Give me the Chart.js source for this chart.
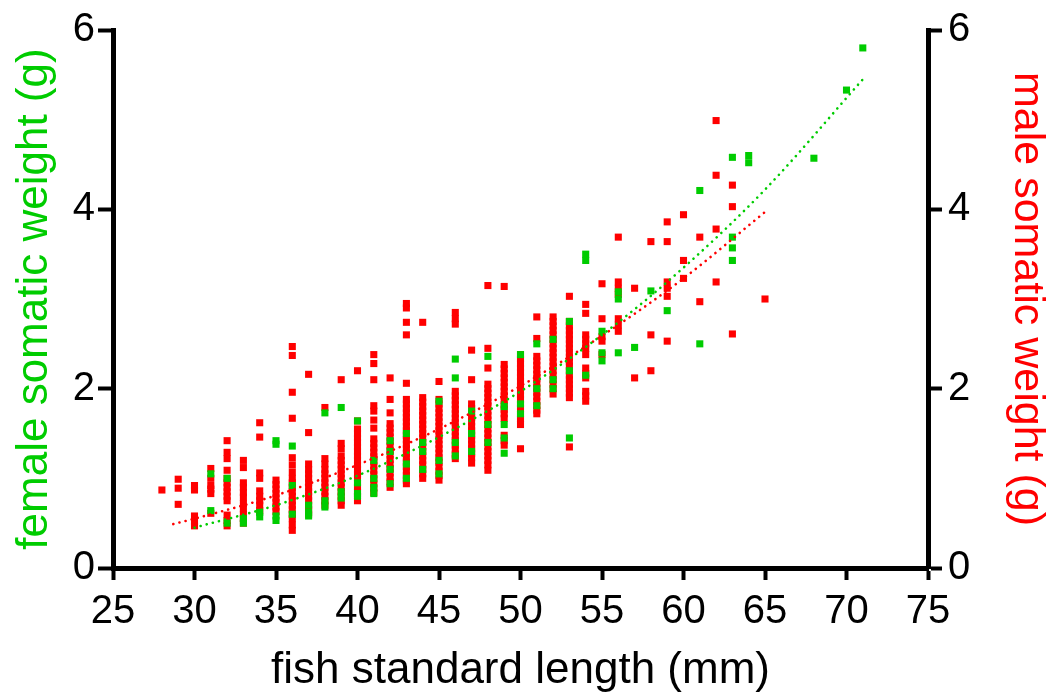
<!DOCTYPE html>
<html>
<head>
<meta charset="utf-8">
<script src="https://cdn.jsdelivr.net/npm/chart.js@4"></script>
<style>
html,body{margin:0;padding:0;background:#fff;}
#wrap{width:1054px;height:695px;}
</style>
</head>
<body>
<div id="wrap"><canvas id="c" width="1054" height="695"></canvas></div>
<script>
// ---- data ----
const xTicks = [25, 30, 35, 40, 45, 50, 55, 60, 65, 70, 75];
const yTicks = [0, 2, 4, 6];

const maleLengths = [28,29,30,31,32,33,34,35,36,37,38,39,40,41,42,43,44,45,46,47,48,49,50,51,52,53,54,55,56,57,58,59,60,61,62,63,65];
const maleWeights = [
  [0.87],
  [0.99,0.89,0.71],
  [0.92,0.87,0.58,0.52,0.47],
  [1.11,1.0,0.92,0.88,0.83,0.61],
  [1.42,1.29,1.22,1.09,1.0,0.95,0.9,0.85,0.8,0.75,0.59,0.53,0.47],
  [1.2,1.12,0.95,0.9,0.84,0.79,0.72,0.66,0.6,0.55,0.5],
  [1.62,1.46,1.06,1.0,0.86,0.8,0.75,0.7,0.64],
  [0.98,0.93,0.88,0.83,0.78,0.73,0.68,0.63],
  [2.47,2.37,1.96,1.67,1.23,1.15,1.07,1.0,0.95,0.9,0.85,0.8,0.75,0.7,0.65,0.6,0.55,0.48,0.42],
  [2.16,1.51,1.16,1.1,1.05,1.0,0.95,0.9,0.85,0.8,0.75,0.7,0.65,0.6],
  [1.79,1.22,1.16,1.1,1.05,1.0,0.95,0.9,0.85,0.8,0.75,0.7],
  [2.1,1.39,1.33,1.25,1.2,1.15,1.1,1.05,1.0,0.95,0.9,0.85,0.8,0.75,0.7],
  [2.2,1.64,1.55,1.5,1.45,1.4,1.35,1.3,1.25,1.2,1.15,1.1,1.05,1.0,0.95,0.9,0.85,0.8,0.75],
  [2.38,2.28,2.1,1.81,1.75,1.65,1.56,1.44,1.39,1.34,1.29,1.24,1.19,1.14,1.09,1.04,0.99,0.94,0.89,0.84],
  [2.12,1.88,1.73,1.61,1.56,1.51,1.46,1.41,1.36,1.31,1.26,1.21,1.16,1.11,1.06,1.01,0.96,0.9],
  [2.95,2.9,2.74,2.6,2.06,1.88,1.83,1.78,1.73,1.68,1.63,1.58,1.53,1.48,1.43,1.38,1.33,1.28,1.23,1.18,1.13,1.08,1.03,0.98,0.94],
  [2.74,1.9,1.85,1.8,1.75,1.7,1.65,1.6,1.55,1.5,1.45,1.4,1.35,1.3,1.25,1.2,1.15,1.1,1.05,1.0],
  [2.08,1.88,1.83,1.78,1.73,1.68,1.63,1.58,1.53,1.48,1.43,1.38,1.33,1.28,1.23,1.18,1.13,1.08,1.03,0.98],
  [2.85,2.78,2.72,1.97,1.92,1.87,1.82,1.77,1.72,1.67,1.62,1.57,1.52,1.47,1.42,1.37,1.32,1.27,1.22],
  [2.43,2.1,1.83,1.78,1.73,1.68,1.63,1.58,1.53,1.48,1.43,1.38,1.33,1.28,1.23,1.17],
  [3.15,2.45,2.23,2.05,2.0,1.95,1.9,1.85,1.8,1.75,1.7,1.65,1.6,1.55,1.5,1.45,1.4,1.35,1.3,1.25,1.2,1.15,1.09],
  [3.14,2.27,2.22,2.17,2.12,2.07,2.02,1.97,1.92,1.87,1.82,1.77,1.72,1.67,1.48,1.42,1.37],
  [2.38,2.33,2.28,2.23,2.18,2.13,2.08,2.03,1.98,1.93,1.88,1.83,1.78,1.72,1.66,1.6,1.33],
  [2.8,2.56,2.36,2.31,2.26,2.21,2.16,2.11,2.06,2.01,1.96,1.91,1.86,1.81,1.76,1.72],
  [2.8,2.75,2.7,2.65,2.6,2.55,2.5,2.45,2.4,2.35,2.3,2.25,2.2,2.15,2.1,2.05,2.0,1.94],
  [3.03,2.75,2.7,2.65,2.6,2.55,2.5,2.45,2.4,2.35,2.3,2.25,2.2,2.15,2.1,2.05,2.0,1.95,1.9,1.35],
  [2.94,2.84,2.6,2.55,2.5,2.45,2.38,2.23,2.17,2.12,1.97,1.92,1.86],
  [3.17,2.78,2.58,2.53,2.38],
  [3.69,3.19,3.12,3.05,2.78,2.71,2.64],
  [3.12,2.12],
  [3.64,2.6,2.2],
  [3.86,3.64,3.19,3.12,3.03,2.53],
  [3.94,3.43,3.23],
  [3.69,2.97],
  [4.99,4.38,3.78,3.19],
  [4.27,4.03,2.61],
  [3.0]
];

const femaleLengths = [31,32,33,34,35,36,37,38,39,40,41,42,43,44,45,46,47,48,49,50,51,52,53,54,55,56,57,58,59,61,63,64,68,70,71];
const femaleWeights = [
  [1.05,0.64],
  [1.0,0.5],
  [0.55,0.5],
  [0.57,0.62],
  [1.42,1.38,0.58,0.53],
  [1.36,0.92,0.6],
  [0.62,0.58,0.7],
  [1.73,0.68,0.75],
  [1.79,0.78,0.85],
  [1.64,0.83,0.95,0.8],
  [1.0,0.9,0.83,1.2],
  [1.42,0.94,1.1,1.3],
  [1.16,1.0,1.5],
  [1.1,1.3,1.4],
  [1.86,1.2,1.05],
  [2.33,2.12,1.25,1.4],
  [1.75,1.3,1.5],
  [2.36,1.4,1.6],
  [1.45,1.28,1.6,1.8],
  [2.38,1.83,1.72],
  [2.5,1.81,2.0],
  [2.55,2.1,2.0],
  [2.75,1.45,2.2],
  [3.5,3.43,2.15],
  [2.64,2.4,2.31],
  [3.08,3.0,2.4],
  [2.46],
  [3.09],
  [2.87],
  [4.21,2.5],
  [4.58,3.69,3.57,3.43],
  [4.6,4.52],
  [4.57],
  [5.33],
  [5.8]
];

const femaleFitLengths = [30, 35, 40, 45, 50, 55, 60, 65, 71];
const femaleFitWeights = [0.45, 0.70, 1.03, 1.46, 1.97, 2.60, 3.35, 4.22, 5.45];
const maleFitLengths = [28.7, 30, 35, 40, 45, 50, 55, 60, 65];
const maleFitWeights = [0.49, 0.55, 0.81, 1.15, 1.55, 2.03, 2.59, 3.23, 3.97];

// ---- build ----
const GREEN = 'rgb(0,204,0)';
const RED = 'rgb(255,0,0)';
const FONT = "'Liberation Sans', Arial, sans-serif";

function pts(lengths, weights) {
  const out = [];
  lengths.forEach((L, i) => weights[i].forEach(w => out.push({x: L, y: w})));
  return out;
}
function line(xs, ys) { return xs.map((x, i) => ({x, y: ys[i]})); }

const tickFont = {family: FONT, size: 40, lineHeight: 1.2};

new Chart(document.getElementById('c'), {
  type: 'scatter',
  data: {
    datasets: [
      {label: 'female fit', data: line(femaleFitLengths, femaleFitWeights), showLine: true, pointRadius: 0,
       borderColor: GREEN, borderWidth: 2.6, borderDash: [0.1, 6.2], borderCapStyle: 'round', cubicInterpolationMode: 'monotone', yAxisID: 'y'},
      {label: 'male fit', data: line(maleFitLengths, maleFitWeights), showLine: true, pointRadius: 0,
       borderColor: RED, borderWidth: 2.6, borderDash: [0.1, 6.2], borderCapStyle: 'round', cubicInterpolationMode: 'monotone', yAxisID: 'y2'},
      {label: 'female', data: pts(femaleLengths, femaleWeights), pointStyle: 'rect', pointRadius: 5,
       backgroundColor: GREEN, borderWidth: 0, yAxisID: 'y'},
      {label: 'male', data: pts(maleLengths, maleWeights), pointStyle: 'rect', pointRadius: 5,
       backgroundColor: RED, borderWidth: 0, yAxisID: 'y2'}
    ]
  },
  options: {
    responsive: false,
    animation: false,
    devicePixelRatio: 1,
    layout: {padding: {top: 27, left: 0, right: 0, bottom: 0}},
    plugins: {legend: {display: false}, tooltip: {enabled: false}},
    scales: {
      x: {
        type: 'linear', position: 'bottom', min: 25, max: 75,
        afterBuildTicks: s => { s.ticks = xTicks.map(v => ({value: v})); },
        ticks: {font: tickFont, color: '#000', padding: 8, maxRotation: 0, autoSkip: false},
        grid: {display: true, drawOnChartArea: false, drawTicks: true, tickLength: 12, tickWidth: 4, tickColor: '#000'},
        border: {display: true, color: '#000', width: 5},
        title: {display: true, text: 'fish standard length (mm)', color: '#000',
                font: {family: FONT, size: 44, lineHeight: 1}, padding: {top: 0, bottom: 2}},
        afterFit: s => { s.height = 127; }
      },
      y: {
        type: 'linear', position: 'left', min: 0, max: 6,
        afterBuildTicks: s => { s.ticks = yTicks.map(v => ({value: v})); },
        ticks: {font: tickFont, color: '#000', padding: 3},
        grid: {display: true, drawOnChartArea: false, drawTicks: true, tickLength: 15, tickWidth: 4, tickColor: '#000'},
        border: {display: true, color: '#000', width: 5},
        title: {display: true, text: 'female somatic weight (g)', color: GREEN,
                font: {family: FONT, size: 44, lineHeight: 1}, padding: {top: 13, bottom: 0}},
        afterFit: s => { s.width = 113; }
      },
      y2: {
        type: 'linear', position: 'right', min: 0, max: 6,
        afterBuildTicks: s => { s.ticks = yTicks.map(v => ({value: v})); },
        ticks: {font: tickFont, color: '#000', padding: 6},
        grid: {display: true, drawOnChartArea: false, drawTicks: true, tickLength: 14, tickWidth: 4, tickColor: '#000'},
        border: {display: true, color: '#000', width: 5},
        title: {display: true, text: 'male somatic weight (g)', color: RED,
                font: {family: FONT, size: 43, lineHeight: 1}, padding: {top: 6, bottom: 0}},
        afterFit: s => { s.width = 126; }
      }
    }
  }
});
</script>
</body>
</html>
